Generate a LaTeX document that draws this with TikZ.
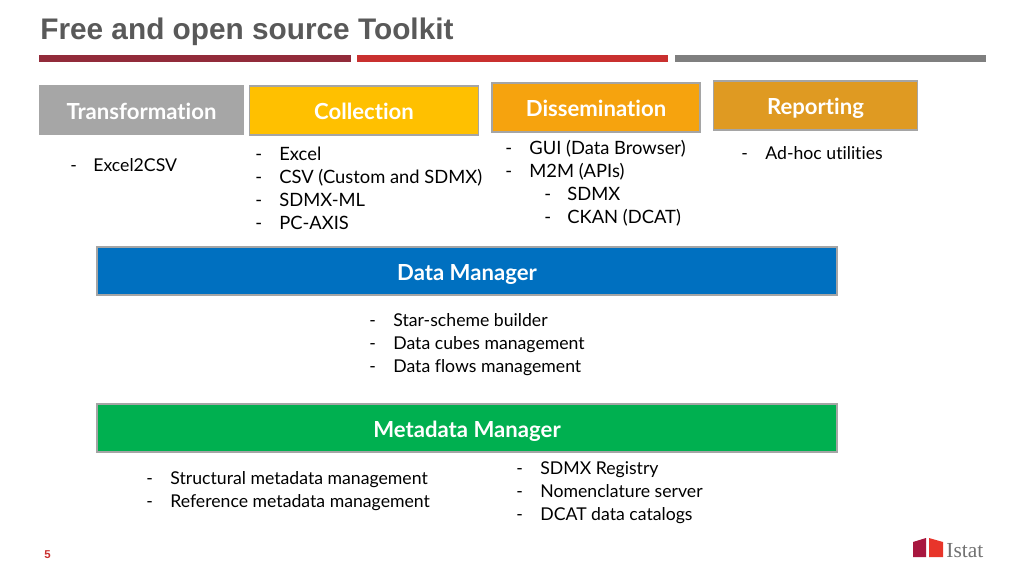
\documentclass[tikz,border=0pt]{standalone}
\usepackage{fontspec}
\setmainfont[Ligatures=CommonOff]{Lato}
\newfontfamily\titlefont{Liberation Sans}
\newfontfamily\logofont{Liberation Serif}
\definecolor{titlegrey}{HTML}{595959}
\definecolor{barone}{HTML}{922B3A}
\definecolor{bartwo}{HTML}{C9302F}
\definecolor{barthree}{HTML}{7F7F7F}
\definecolor{boxedge}{HTML}{A5A5A5}
\definecolor{transcol}{HTML}{A6A6A6}
\definecolor{collcol}{HTML}{FFC000}
\definecolor{disscol}{HTML}{F6A30E}
\definecolor{repcol}{HTML}{DF9A22}
\definecolor{datacol}{HTML}{0070C0}
\definecolor{metacol}{HTML}{00B050}
\definecolor{logoleft}{HTML}{A8173F}
\definecolor{logoright}{HTML}{E8352A}
\tikzset{
  head/.style={draw=boxedge,line width=.8pt,text=white,font=\fontsize{12.6}{14}\selectfont\bfseries,inner sep=0pt,text height=11pt,text depth=.5pt},
  item/.style={anchor=base west,inner sep=0pt,text=black,font=\fontsize{10.05}{12}\selectfont,yshift=-.3pt},
  itemwide/.style={item,font=\fontsize{10.45}{12}\selectfont},
}
\begin{document}
\begin{tikzpicture}[x=.02cm,y=-.02cm]
 \useasboundingbox (0,0) rectangle (1024,576);
 \fill[white] (0,0) rectangle (1024,576);
 % title and bars
 \node[anchor=base west,inner sep=0pt,text=titlegrey,font=\titlefont\fontsize{16.95}{20}\selectfont\bfseries] (title) at (40,39) {Free and open source Toolkit};
 \fill[barone] (39,55) rectangle (351,62);
 \fill[bartwo] (357,55) rectangle (668,62);
 \fill[barthree] (675,55) rectangle (986,62);
 % heads
 \node[head,fill=transcol,draw=transcol,minimum width=.02cm*204,minimum height=.02cm*49] (transformation) at (141.5,110) {Transformation};
 \node[head,fill=collcol,minimum width=.02cm*229,minimum height=.02cm*49] (collection) at (364,110.5) {Collection};
 \node[head,fill=disscol,minimum width=.02cm*208,minimum height=.02cm*49] (dissemination) at (596,107.5) {Dissemination};
 \node[head,fill=repcol,minimum width=.02cm*204,minimum height=.02cm*49] (reporting) at (815.5,105.5) {Reporting};
 \node[head,fill=datacol,minimum width=.02cm*740,minimum height=.02cm*48] (datamanager) at (467,271) {Data Manager};
 \node[head,fill=metacol,minimum width=.02cm*740,minimum height=.02cm*48] (metamanager) at (467,428) {Metadata Manager};
 % lists
 \foreach \xa/\xb/\yy/\txt in {
   70/93/171/Excel2CSV,
   741/765/159/Ad-hoc utilities,
   369/393/326/Star-scheme builder,
   369/393/349/Data cubes management,
   369/393/372/Data flows management,
   146/170/484/Structural metadata management,
   146/170/507/Reference metadata management,
   516/540/474/SDMX Registry,
   516/540/497/Nomenclature server,
   516/540/520/DCAT data catalogs} {
  \node[item] at (\xa,\yy) {-};
  \node[item] at (\xb,\yy) {\txt};
 }
 \foreach \xa/\xb/\yy/\txt in {
   255/279/160/Excel,
   255/279/183/CSV (Custom and SDMX),
   255/279/206/SDMX-ML,
   255/279/229/PC-AXIS,
   505/529/154/GUI (Data Browser),
   505/529/177/M2M (APIs),
   544/567/200/SDMX,
   544/567/223/CKAN (DCAT)} {
  \node[itemwide] at (\xa,\yy) {-};
  \node[itemwide] at (\xb,\yy) {\txt};
 }
 % page number
 \node[anchor=base,inner sep=0pt,text=bartwo,font=\titlefont\fontsize{6.5}{8}\selectfont\bfseries] (pagenum) at (47.5,558) {5};
 % logo
 \fill[logoleft] (913,542) -- (926,538) -- (926,557) -- (913,557) -- cycle;
 \fill[logoright] (929,538) -- (943,542) -- (943,557) -- (929,557) -- cycle;
 \node[anchor=base west,inner sep=0pt,text=titlegrey!85,font=\logofont\fontsize{12.2}{14}\selectfont] (logo) at (946,557) {Istat};
\end{tikzpicture}
\end{document}
